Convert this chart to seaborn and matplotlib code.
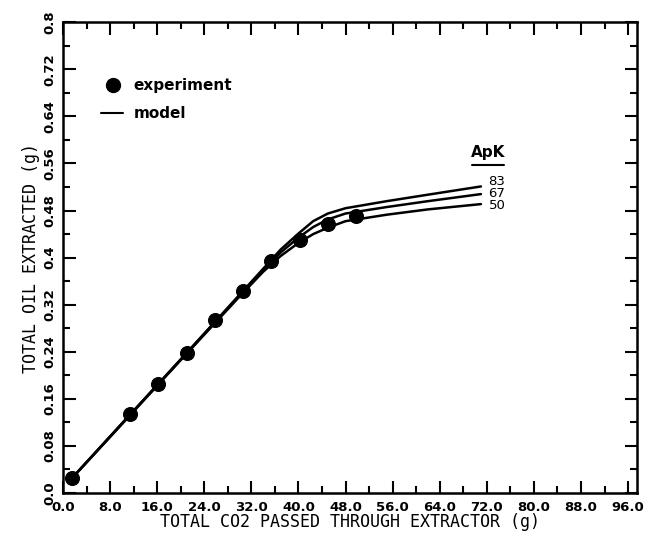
import numpy as np
import pandas as pd
import matplotlib
matplotlib.use("Agg")
import matplotlib.pyplot as plt
import seaborn as sns
from matplotlib.ticker import MultipleLocator

sns.set_style("ticks")
plt.rcParams["font.family"] = ["DejaVu Sans"]
plt.rcParams["text.color"] = "black"
plt.rcParams["axes.labelcolor"] = "black"

# experiment points
exp_co2 = [1.5, 11.4, 16.2, 21.1, 25.9, 30.6, 35.4, 40.3, 45.1, 49.8]
exp_oil = [0.025, 0.134, 0.185, 0.238, 0.294, 0.343, 0.394, 0.430, 0.457, 0.470]

# model curves for each ApK
model_co2 = [1.5, 10, 20, 30, 34, 37, 40, 42.5, 45, 48, 55, 62, 71]
model_83 = [0.025, 0.118, 0.227, 0.337, 0.381, 0.414, 0.441, 0.462, 0.475, 0.484, 0.496, 0.507, 0.521]
model_67 = [0.025, 0.118, 0.227, 0.336, 0.379, 0.409, 0.434, 0.452, 0.465, 0.475, 0.486, 0.496, 0.508]
model_50 = [0.025, 0.117, 0.226, 0.334, 0.376, 0.403, 0.425, 0.440, 0.451, 0.462, 0.473, 0.482, 0.491]
apk_labels = ["83", "67", "50"]
apk_label_y = [0.530, 0.509, 0.488]

x_ticks = np.arange(0, 97, 8)
x_ticklabels = ["%.1f" % v for v in x_ticks]
y_ticks = np.arange(0, 0.81, 0.08)
y_ticklabels = ["0.0", "0.08", "0.16", "0.24", "0.32", "0.4", "0.48", "0.56", "0.64", "0.72", "0.8"]

model = pd.DataFrame({
    "co2": model_co2 * 3,
    "oil": model_83 + model_67 + model_50,
    "ApK": sum([[k] * len(model_co2) for k in apk_labels], []),
})
exp = pd.DataFrame({"co2": exp_co2, "oil": exp_oil})

fig = plt.figure(figsize=(6.47, 5.38), dpi=100)
ax = fig.add_axes([0.0974, 0.0836, 0.887, 0.875])

sns.lineplot(data=model, x="co2", y="oil", units="ApK", estimator=None,
             color="black", lw=1.8, ax=ax, legend=False)
sns.scatterplot(data=exp, x="co2", y="oil", color="black", s=100,
                edgecolor="black", zorder=5, ax=ax, legend=False)

ax.set_xlim(0, 97.5)
ax.set_ylim(0, 0.8)
ax.set_xticks(x_ticks)
ax.set_xticklabels(x_ticklabels, fontweight="bold", fontsize=9.5)
ax.set_yticks(y_ticks)
ax.set_yticklabels(y_ticklabels, fontweight="bold", fontsize=9.5, rotation=90, va="center")
ax.xaxis.set_minor_locator(MultipleLocator(4))
ax.yaxis.set_minor_locator(MultipleLocator(0.04))
ax.tick_params(which="both", direction="in", top=True, right=True, width=1.5,
               colors="black", labelcolor="black")
ax.tick_params(which="major", length=9)
ax.tick_params(which="minor", length=5)
ax.tick_params(axis="x", pad=6)
ax.tick_params(axis="y", pad=5)
for s in ax.spines.values():
    s.set_linewidth(1.8)
    s.set_color("black")

ax.set_xlabel("TOTAL CO2 PASSED THROUGH EXTRACTOR (g)", family="DejaVu Sans Mono",
              fontsize=12, labelpad=-1)
ax.set_ylabel("TOTAL OIL EXTRACTED (g)", family="DejaVu Sans Mono", fontsize=12, labelpad=2)

# legend drawn as in the original
ax.scatter([8.5], [0.693], s=100, color="black")
ax.text(12.0, 0.693, "experiment", fontsize=11, fontweight="bold", va="center")
ax.plot([6.5, 10.2], [0.645, 0.645], color="black", lw=1.5)
ax.text(12.0, 0.645, "model", fontsize=11, fontweight="bold", va="center")

ax.text(72.3, 0.578, "ApK", fontsize=11, fontweight="bold", ha="center", va="center")
ax.plot([69.5, 75.0], [0.557, 0.557], color="black", lw=1.5)
for lab, yy in zip(apk_labels, apk_label_y):
    ax.text(72.3, yy, lab, fontsize=9.5, va="center")

fig.savefig("out.png", dpi=100)
